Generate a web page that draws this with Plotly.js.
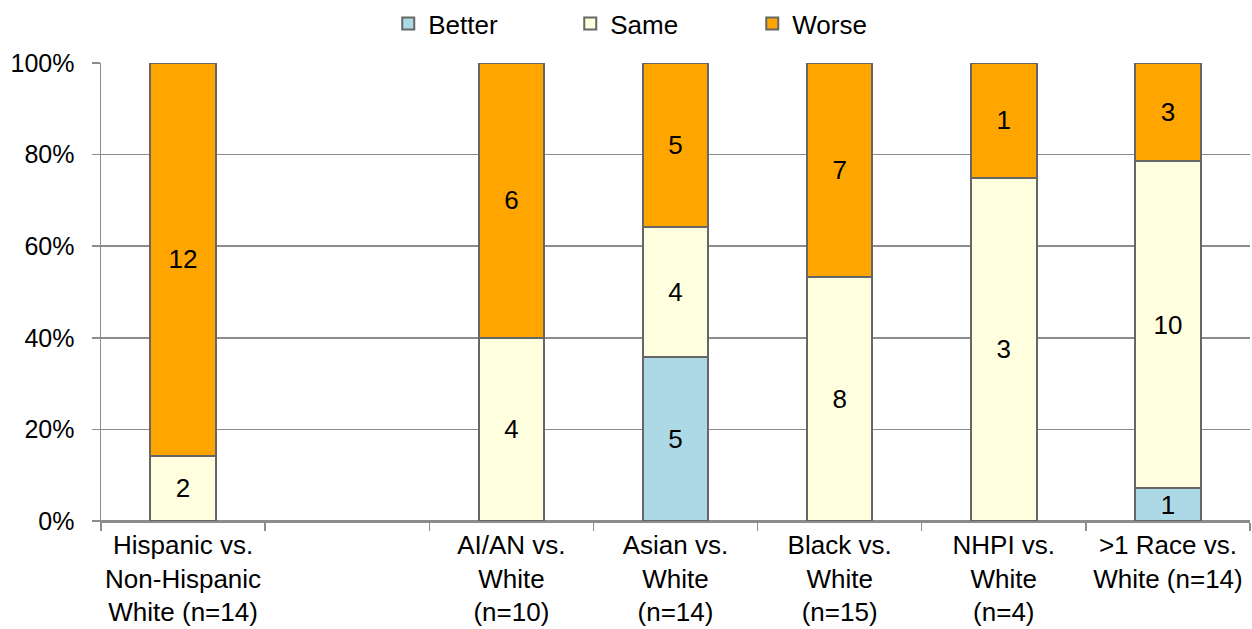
<!DOCTYPE html>
<html>
<head>
<meta charset="utf-8">
<script src="https://cdn.plot.ly/plotly-3.0.1.min.js"></script>
<style>html,body{margin:0;padding:0;background:#fff;}#chart{width:1252px;height:629px;}</style>
</head>
<body>
<div id="chart"></div>
<script>
var categories = [
  "Hispanic vs.<br>Non-Hispanic<br>White (n=14)",
  " ",
  "AI/AN vs.<br>White<br>(n=10)",
  "Asian vs.<br>White<br>(n=14)",
  "Black vs.<br>White<br>(n=15)",
  "NHPI vs.<br>White<br>(n=4)",
  ">1 Race vs.<br>White (n=14)"
];
var better = [null, null, null, 5, null, null, 1];
var same   = [2, null, 4, 4, 8, 3, 10];
var worse  = [12, null, 6, 5, 7, 1, 3];

var FONT = "Liberation Sans, Arial, sans-serif";
var FS = 26;
var lineStyle = {color: "#666666", width: 2};
function mk(name, vals, color) {
  return {
    type: "bar", name: name, x: categories, y: vals,
    text: vals.map(function(v){ return v == null ? "" : String(v); }),
    textposition: "inside", insidetextanchor: "middle", constraintext: "none", textangle: 0,
    textfont: {family: FONT, size: FS, color: "#000"},
    marker: {color: color, line: lineStyle},
    width: 0.4, hoverinfo: "skip"
  };
}
var data = [
  mk("Better", better, "#ADD8E6"),
  mk("Same", same, "#FFFFE0"),
  mk("Worse", worse, "#FFA500")
];
var layout = {
  width: 1252, height: 629,
  margin: {l: 101, r: 2, t: 63, b: 108},
  barmode: "stack", barnorm: "percent",
  paper_bgcolor: "#fff", plot_bgcolor: "#fff",
  font: {family: FONT, size: FS, color: "#000"},
  showlegend: true,
  legend: {orientation: "h", x: 0.25, xanchor: "left", y: 1, yref: "container", yanchor: "top",
           entrywidth: 137, font: {family: FONT, size: FS, color: "#000"}, traceorder: "normal", itemclick: false},
  xaxis: {type: "category", tickson: "boundaries", ticks: "outside", ticklen: 8, tickcolor: "#8c8c8c", tickwidth: 1.5,
          showline: true, linecolor: "#8c8c8c", linewidth: 1.5, showgrid: false, tickangle: 0,
          tickfont: {family: FONT, size: FS, color: "#000"}, fixedrange: true},
  yaxis: {range: [0, 100], dtick: 20, ticksuffix: "%", ticks: "outside", ticklen: 8, tickcolor: "#8c8c8c", tickwidth: 1.5,
          showline: true, linecolor: "#8c8c8c", linewidth: 1.5, showgrid: true, gridcolor: "#8c8c8c", gridwidth: 1.5,
          zeroline: true, zerolinecolor: "#8c8c8c", zerolinewidth: 1.5, ticklabelstandoff: 12,
          tickfont: {family: FONT, size: 25, color: "#000"}, fixedrange: true}
};
Plotly.newPlot("chart", data, layout, {displayModeBar: false, staticPlot: true});
</script>
</body>
</html>
